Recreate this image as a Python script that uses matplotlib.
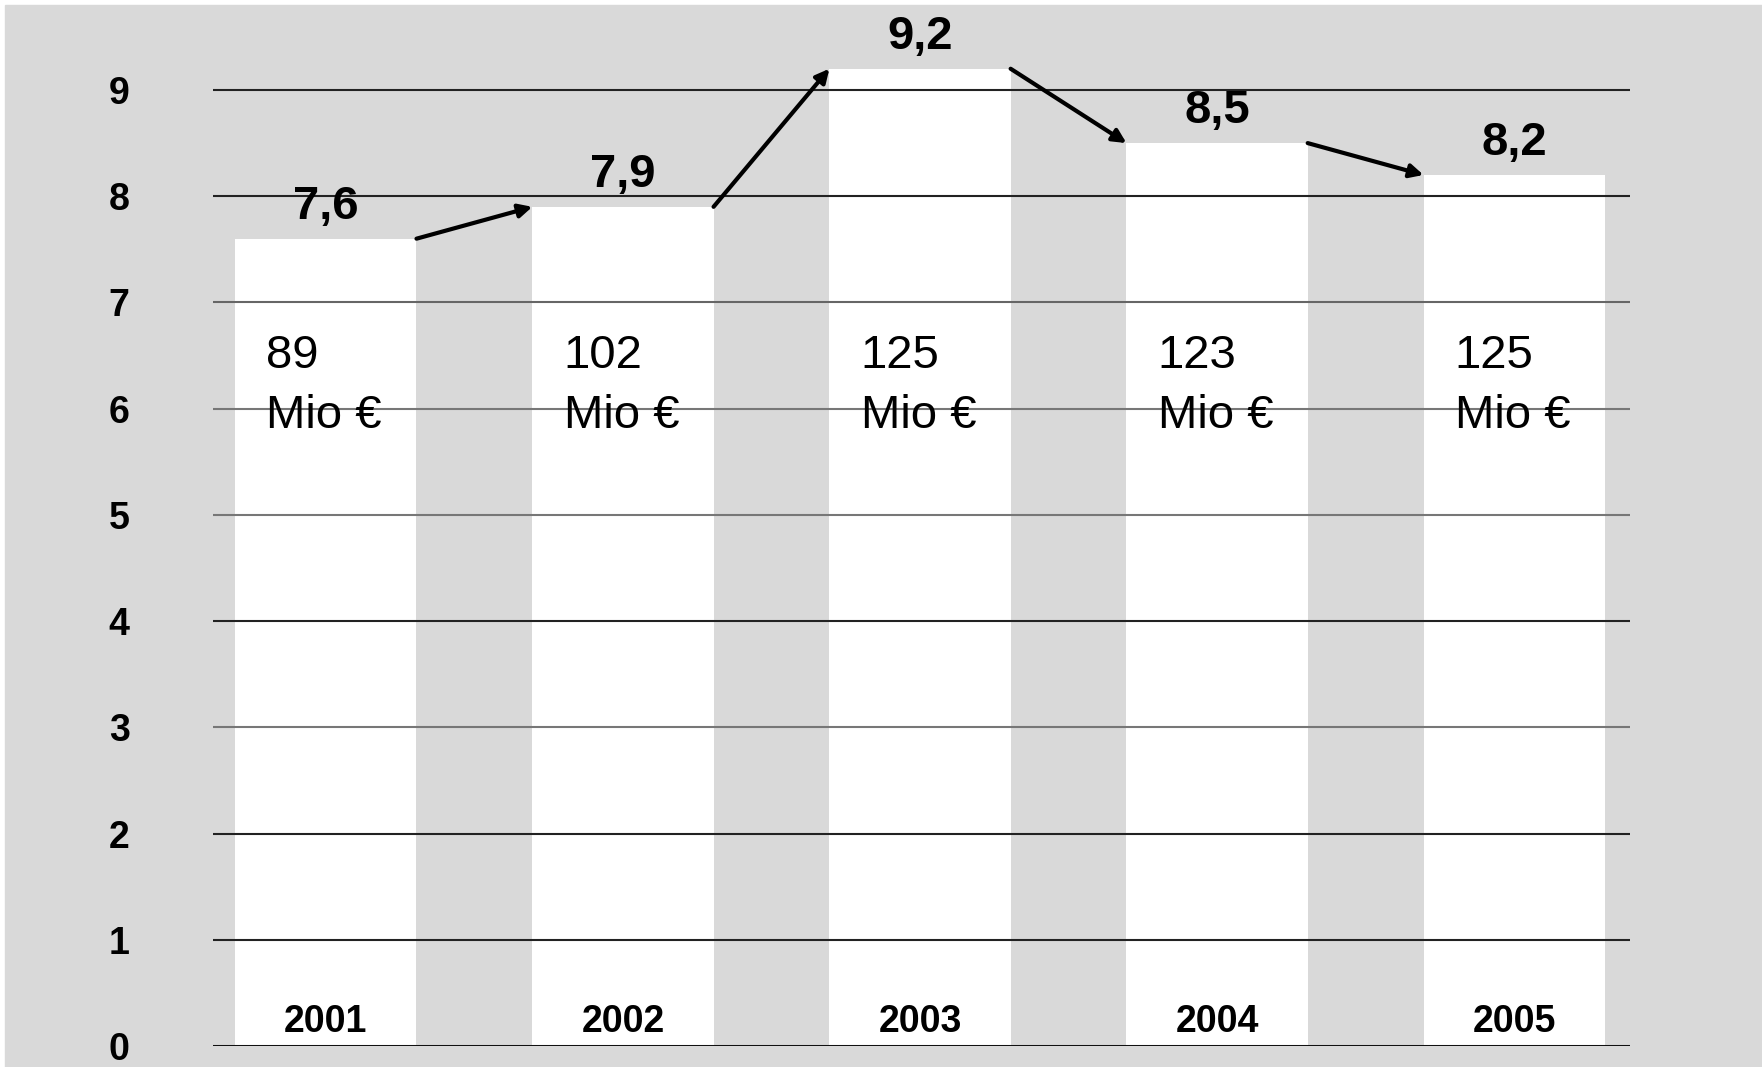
import matplotlib
matplotlib.use("Agg")
import matplotlib.pyplot as plt
from matplotlib.patches import Rectangle

plt.rcParams['font.family'] = ['Liberation Sans', 'DejaVu Sans']

years = ["2001", "2002", "2003", "2004", "2005"]
values = [7.6, 7.9, 9.2, 8.5, 8.2]
value_labels = ["7,6", "7,9", "9,2", "8,5", "8,2"]
revenue = ["89", "102", "125", "123", "125"]
y_ticks = [0, 1, 2, 3, 4, 5, 6, 7, 8, 9]

bg = "#d9d9d9"
bar_w = 0.61

fig = plt.figure(figsize=(17.62, 10.67), dpi=100)
fig.patches.append(Rectangle((5 / 1762, 0), 1, (1067 - 5) / 1067,
                             transform=fig.transFigure, color=bg, zorder=-10))

ax = fig.add_axes([213 / 1762, 21 / 1067, (1630 - 213) / 1762, (1046 - 5) / 1067])
ax.set_facecolor("none")
for s in ax.spines.values():
    s.set_visible(False)

x = list(range(len(years)))
ax.bar(x, values, width=bar_w, color="white", zorder=2)

# horizontal rules, some darker than others
grid_colors = {0: "#111111", 1: "#222222", 2: "#222222", 3: "#777777",
               4: "#222222", 5: "#777777", 6: "#777777", 7: "#666666",
               8: "#222222", 9: "#222222"}
for t in y_ticks:
    ax.axhline(t, color=grid_colors[t], lw=2.2 if t == 0 else 1.5, zorder=3)

ax.set_xlim(-0.38, 4.39)
ax.set_ylim(0, 9.8)
ax.set_xticks([])
ax.set_yticks(y_ticks)
ax.set_yticklabels([str(t) for t in y_ticks], fontsize=27, fontweight="bold")
ax.tick_params(axis="y", length=0, pad=60)

for i in x:
    ax.annotate(value_labels[i], (i, values[i]), xytext=(0, 7),
                textcoords="offset points", ha="center", va="bottom",
                fontsize=34, fontweight="bold", zorder=5)
    ax.text(i - 0.2, 6.38, revenue[i], fontsize=34, ha="left",
            va="baseline", zorder=5)
    ax.text(i - 0.2, 5.82, "Mio €", fontsize=34, ha="left",
            va="baseline", zorder=5)
    ax.text(i, 0.13, years[i], fontsize=27, fontweight="bold",
            ha="center", va="baseline", zorder=5)

# arrows linking the top corners of neighbouring bars
for i in x[:-1]:
    ax.annotate("", xy=(i + 1 - bar_w / 2, values[i + 1]),
                xytext=(i + bar_w / 2, values[i]),
                arrowprops=dict(arrowstyle="-|>", lw=3, color="black",
                                mutation_scale=20, shrinkA=0, shrinkB=0),
                zorder=6)

fig.savefig("out.png", dpi=100)
